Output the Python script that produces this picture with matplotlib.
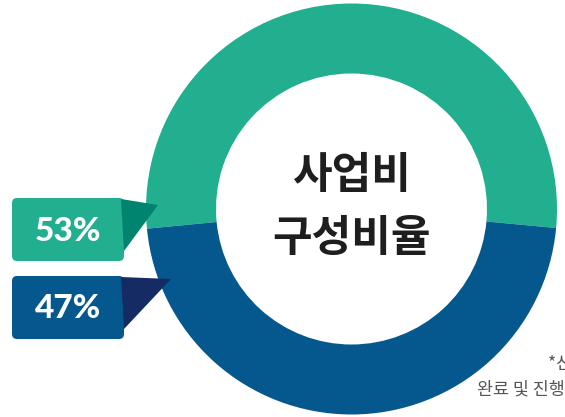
import matplotlib.pyplot as plt
from matplotlib.patches import FancyBboxPatch, Polygon

# data
labels = ['53%', '47%']
shares = [53, 47]
ring_colors = ['#21AF8F', '#05588E']
box_colors = ['#21AF8F', '#05588E']
tip_colors = ['#00846F', '#142B63']
title_lines = ['사업비', '구성비율']
note_lines = ['*산출 기준', '완료 및 진행 중 사업']

W, H = 565, 417
fig = plt.figure(figsize=(W / 100, H / 100), dpi=100)
ax = fig.add_axes([0, 0, 1, 1])

# donut, pixel coords with y flipped
cx, cy = 351.5, H - 209
ax.pie(shares, colors=ring_colors, startangle=-5.3, counterclock=True,
       radius=205.5, center=(cx, cy),
       wedgeprops=dict(width=70, linewidth=0), frame=False)

ax.text(cx, H - 175, title_lines[0], ha='center', va='center', fontsize=31,
        fontweight='bold', color='#1E1E1E', family=['Noto Sans CJK KR'])
ax.text(cx, H - 238, title_lines[1], ha='center', va='center', fontsize=31,
        fontweight='bold', color='#1E1E1E', family=['Noto Sans CJK KR'])

# label boxes with pointers
box_tops = [198, 276]
tips = [(158, 205), (171, 279)]
for i in range(2):
    top = box_tops[i]
    box = FancyBboxPatch((12, H - top - 63), 112, 63,
                         boxstyle='round,pad=0,rounding_size=5',
                         fc=box_colors[i], ec='none', zorder=3)
    ax.add_patch(box)
    tri = Polygon([(121, H - top - 1), (tips[i][0], H - tips[i][1]),
                   (124, H - top - 53)],
                  closed=True, fc=tip_colors[i], ec='none', zorder=4)
    ax.add_patch(tri)
    ax.text(68, H - top - 33, labels[i], ha='center', va='center',
            fontsize=24, fontweight='black', color='white',
            family=['Lato', 'DejaVu Sans'], zorder=5)

# note at bottom right, clipped by the figure edge as in the source
ax.text(548, H - 364, note_lines[0], ha='left', va='center', fontsize=12.5,
        fontweight='light', color='#555555', family=['Noto Sans CJK KR'])
ax.text(477, H - 390, note_lines[1], ha='left', va='center', fontsize=12.5,
        fontweight='light', color='#555555', family=['Noto Sans CJK KR'])

ax.set_xlim(0, W)
ax.set_ylim(0, H)
ax.set_aspect('auto')
ax.axis('off')

fig.savefig('out.png', dpi=100)
